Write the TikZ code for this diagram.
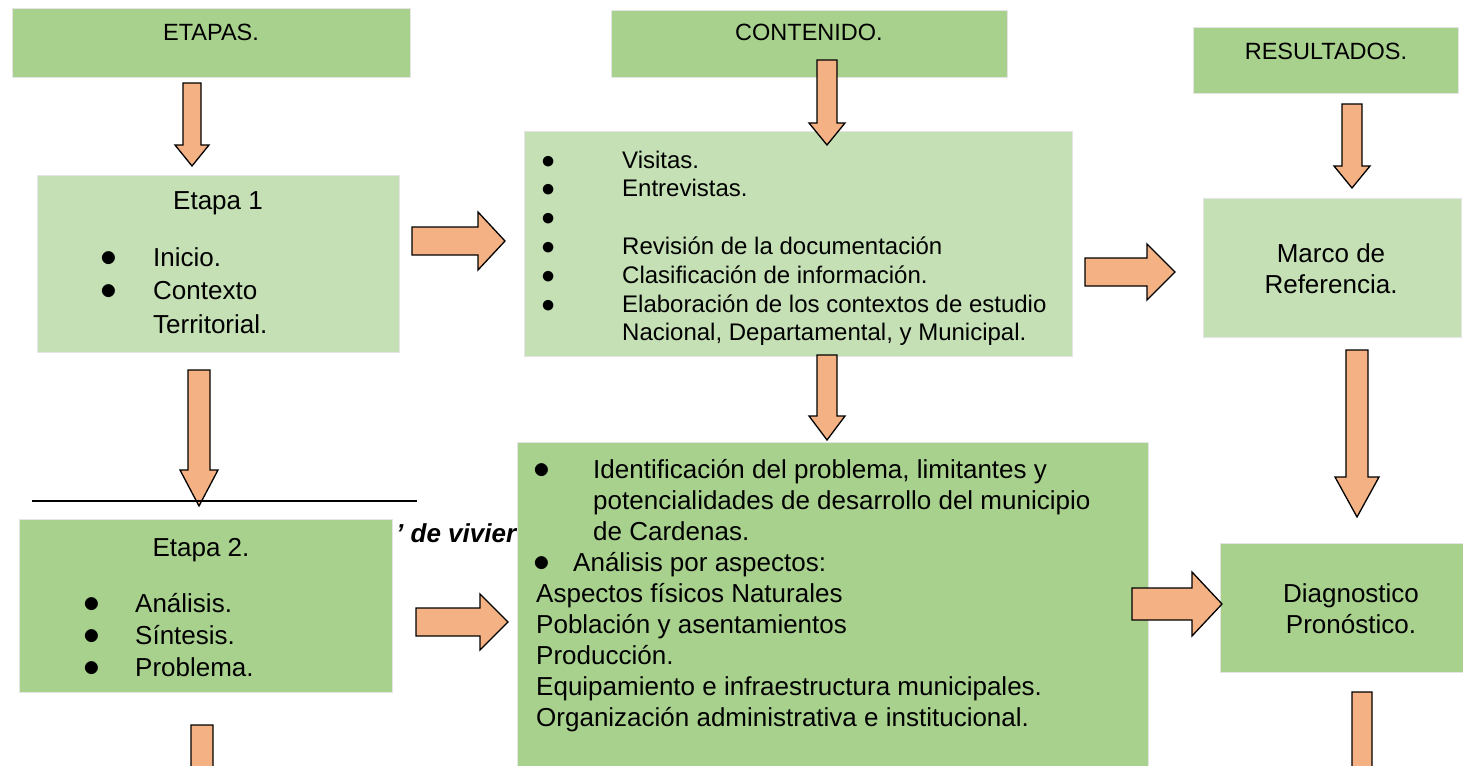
\documentclass[tikz,border=0pt]{standalone}
\usepackage{fontspec}
\setmainfont{Liberation Sans}
\usetikzlibrary{positioning}
\definecolor{verde}{HTML}{A9D18E}
\definecolor{verdeclaro}{HTML}{C5E0B4}
\definecolor{naranja}{HTML}{F4B183}
\newcommand{\vin}[1][1.35]{\makebox[0pt]{\scalebox{#1}{$\bullet$}}}
% x, y cola, y punta, medio cuerpo, media cabeza, largo cabeza
\newcommand{\flechaabajo}[6]{%
  \draw[flecha] ({#1-#4},#2) -- ({#1+#4},#2) -- ({#1+#4},{#3-#6}) -- ({#1+#5},{#3-#6})
    -- (#1,#3) -- ({#1-#5},{#3-#6}) -- ({#1-#4},{#3-#6}) -- cycle;}
% y, x cola, x punta, medio cuerpo, media cabeza, largo cabeza
\newcommand{\flechader}[6]{%
  \draw[flecha] (#2,{#1-#4}) -- ({#3-#6},{#1-#4}) -- ({#3-#6},{#1-#5}) -- (#3,#1)
    -- ({#3-#6},{#1+#5}) -- ({#3-#6},{#1+#4}) -- (#2,{#1+#4}) -- cycle;}

\begin{document}
\begin{tikzpicture}[x=1pt,y=-1pt,
    caja/.style={rectangle, fill=verde, draw=black!10, line width=1pt, anchor=north west, inner sep=0pt},
    clara/.style={caja, fill=verdeclaro},
    flecha/.style={fill=naranja, draw=black, line width=1.3pt, line join=miter},
    texto/.style={inner sep=0pt, font=\fontsize{26}{31}\selectfont},
    titulo/.style={inner sep=0pt, anchor=base, font=\fontsize{23.5}{28}\selectfont}]
  \fill[white] (0,0) rectangle (1463,765);
  \useasboundingbox (0,0) rectangle (1463,765);

  \node[inner sep=0pt, anchor=base west, font=\fontsize{26}{31}\selectfont\bfseries\itshape] (pie) at (396,542) {’ de vivier};

  \node[caja, minimum width=398, minimum height=69] (etapas) at (12,8) {};
  \node[caja, minimum width=396, minimum height=67] (contenido) at (611,10) {};
  \node[caja, minimum width=265, minimum height=66] (resultados) at (1193,27) {};
  \node[clara, minimum width=362, minimum height=177] (etapa1) at (37,175) {};
  \node[clara, minimum width=548, minimum height=225] (cont1) at (524,131) {};
  \node[clara, minimum width=258, minimum height=139] (marco) at (1203,198) {};
  \node[caja, minimum width=373, minimum height=173] (etapa2) at (19,519) {};
  \node[caja, minimum width=631, minimum height=340] (cont2) at (517,442) {};
  \node[caja, minimum width=245, minimum height=129] (diag) at (1220,543) {};

  \node[titulo] at (211,41) {ETAPAS.};
  \node[titulo] at (809,41) {CONTENIDO.};
  \node[titulo] at (1326,60) {RESULTADOS.};

  \node[texto, anchor=base] at (218,209) {Etapa 1};
  \node[texto, anchor=base west] (lista1) at (109,266) {\fontsize{26}{33.5}\selectfont
    \begin{tabular}[t]{@{}p{44pt}@{}l@{}}
      \vin & Inicio.\\
      \vin & Contexto\\
           & Territorial.
    \end{tabular}};

  \node[texto, anchor=base west] (lista2) at (548,168) {\fontsize{24}{28.8}\selectfont
    \begin{tabular}[t]{@{}p{74pt}@{}l@{}}
      \vin[1.1] & Visitas.\\
      \vin[1.1] & Entrevistas.\\
      \vin[1.1] & \\
      \vin[1.1] & Revisión de la documentación\\
      \vin[1.1] & Clasificación de información.\\
      \vin[1.1] & Elaboración de los contextos de estudio\\
                & Nacional, Departamental, y Municipal.
    \end{tabular}};

  \node[texto, align=center] at (1331,269) {Marco de\\Referencia.};

  \node[texto, anchor=base] at (201,556) {Etapa 2.};
  \node[texto, anchor=base west] (lista3) at (92,612) {\fontsize{26}{32}\selectfont
    \begin{tabular}[t]{@{}p{43pt}@{}l@{}}
      \vin & Análisis.\\
      \vin & Síntesis.\\
      \vin & Problema.
    \end{tabular}};

  \node[texto, anchor=base west] (lista4) at (542,478) {%
    \begin{tabular}[t]{@{}p{51pt}@{}l@{}}
      \vin & Identificación del problema, limitantes y\\
           & potencialidades de desarrollo del municipio\\
           & de Cardenas.\\
      \multicolumn{2}{@{}l@{}}{\vin\hspace*{31pt}Análisis por aspectos:}\\
      \multicolumn{2}{@{}l@{}}{\hspace*{-6pt}Aspectos físicos Naturales}\\
      \multicolumn{2}{@{}l@{}}{\hspace*{-6pt}Población y asentamientos}\\
      \multicolumn{2}{@{}l@{}}{\hspace*{-6pt}Producción.}\\
      \multicolumn{2}{@{}l@{}}{\hspace*{-6pt}Equipamiento e infraestructura municipales.}\\
      \multicolumn{2}{@{}l@{}}{\hspace*{-6pt}Organización administrativa e institucional.}
    \end{tabular}};

  \node[texto, align=center] at (1351,609) {Diagnostico\\Pronóstico.};

  \flechaabajo{192}{83}{166}{9}{17}{21}
  \flechaabajo{827}{60}{145}{10}{18}{22}
  \flechaabajo{1352}{104}{188}{10}{18}{22}
  \flechaabajo{199}{370}{506}{11}{19}{36}
  \flechaabajo{827}{355}{440}{10}{18}{24}
  \flechaabajo{1357}{350}{517}{11}{22}{40}
  \flechaabajo{1362}{692}{820}{10}{20}{30}
  \flechaabajo{202}{725}{860}{11}{20}{35}
  \flechader{241}{412}{505}{14}{29}{27}
  \flechader{272}{1085}{1175}{14}{28}{28}
  \flechader{622}{416}{508}{14}{28}{28}
  \flechader{604}{1132}{1222}{16}{32}{30}

  \draw[line width=1.3pt] (32,501) -- (417,501);
\end{tikzpicture}
\end{document}
